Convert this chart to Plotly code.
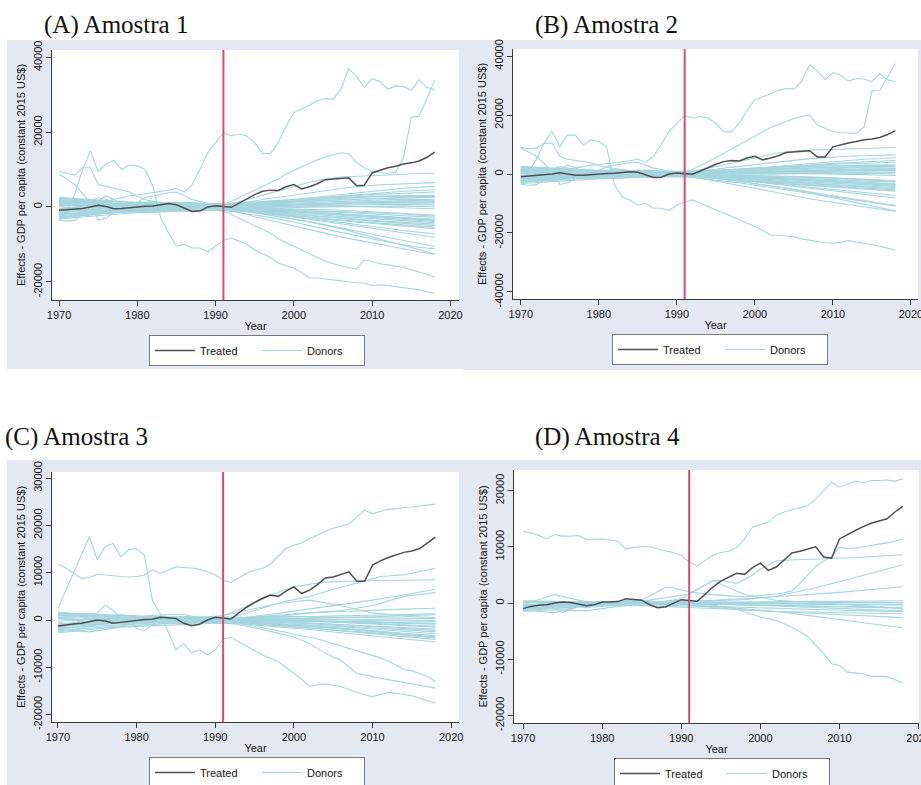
import plotly.graph_objects as go

W, H = 921, 785
SANS = "Liberation Sans, Arial, Helvetica, sans-serif"
SERIF = "Liberation Serif, Times New Roman, serif"

YEARS = list(range(1970, 2019))
BAND_YEARS = [1970, 1974, 1978, 1982, 1986, 1990, 1994, 1998, 2002, 2006, 2010, 2014, 2018]
TREAT_YEAR = 1991

TITLES = ["(A) Amostra 1", "(B) Amostra 2", "(C) Amostra 3", "(D) Amostra 4"]
Y_TITLE = "Effects - GDP per capita (constant 2015 US$)"
X_TITLE = "Year"
X_TICKS = [1970, 1980, 1990, 2000, 2010, 2020]
Y_TICKS = {
    "A": [-20000, 0, 20000, 40000],
    "B": [-40000, -20000, 0, 20000, 40000],
    "C": [-20000, -10000, 0, 10000, 20000, 30000],
    "D": [-20000, -10000, 0, 10000, 20000],
}

# ---------------- treated series ----------------
treated_A = [-900, -700, -500, -400, 0, 450, 100, -450, -400, -200,
             200, 200, 250, 500, 900, 600, -200, -1200, -1100, 0,
             350, 200, -100, 1000, 2200, 3300, 4200, 4500, 4400, 5400,
             6000, 4800, 5400, 6200, 7300, 7500, 7600, 7800, 5700, 5800,
             9100, 9800, 10500, 10900, 11500, 11800, 12300, 13300, 14700]
treated_B = [-900, -700, -500, -400, 0, 450, 100, -450, -400, -200,
             200, 200, 250, 500, 800, 600, -200, -1200, -1100, 0,
             350, 200, -100, 1000, 2200, 3300, 4200, 4600, 4400, 5400,
             6000, 4800, 5400, 6200, 7300, 7500, 7600, 7900, 5800, 5800,
             9200, 9900, 10500, 11000, 11600, 11900, 12400, 13400, 14700]
treated_C = [-1270, -1000, -850, -700, -300, 0, -200, -700, -500, -300,
             0, 100, 150, 560, 500, 300, -700, -1200, -900, 0,
             560, 350, 200, 1500, 2700, 3700, 4600, 5300, 5000, 6100,
             7000, 5600, 6300, 7500, 8900, 9100, 9700, 10200, 8200, 8200,
             11600, 12500, 13200, 13700, 14300, 14600, 15100, 16300, 17500]
treated_D = [-1000, -600, -400, -300, 0, 200, 100, -200, -470, -300,
             180, 200, 250, 770, 700, 500, -300, -830, -700, 0,
             600, 470, 300, 1540, 2840, 3900, 4600, 5300, 5100, 6300,
             7100, 5800, 6400, 7600, 8900, 9200, 9600, 10000, 8200, 8000,
             11400, 12200, 12900, 13600, 14200, 14600, 15000, 16200, 17200]

# ---------------- donors, panels A and B (annual) ----------------
donor_L1_AB = [-1500, -1200, -800, -300, 200, 800, 1500, 2000, 2500, 3000,
               3200, 3500, 3800, 4200, 4500, 5000, 4000, 6000, 10000, 14500,
               17000, 19800, 19000, 19500, 19000, 17200, 14300, 14300, 17200, 21600,
               25200, 26100, 27200, 28400, 29000, 28800, 31500, 37000, 35000, 32000,
               34400, 33500, 31500, 32400, 32200, 31300, 34000, 32000, 31300]
donor_L2_A = [-600, -400, 0, 300, 500, 200, -300, -500, -200, 100,
              300, 600, 400, 800, 1000, 1300, 900, 600, 400, 300,
              500, 700, 1500, 2500, 3500, 4500, 5500, 6500, 7500, 8800,
              9800, 10800, 11800, 12600, 13400, 14000, 14500, 14300, 12000, 10500,
              9500, 9200, 9000, 9300, 13000, 24000, 24300, 29000, 34000]
donor_L2_B = [-600, -400, 0, 300, 500, 200, -300, -500, -200, 100,
              300, 600, 400, 800, 1000, 1300, 900, 600, 400, 300,
              500, 700, 1500, 2800, 4000, 5500, 7000, 8500, 10000, 11500,
              13000, 14500, 15800, 16800, 17800, 18800, 19500, 20000, 16600, 15500,
              14400, 14000, 13800, 13800, 16000, 28200, 28300, 33000, 37500]
donor_L3_A = [-3500, -1000, 3500, 10000, 15000, 9500, 11500, 12500, 10000, 11200,
              11000, 10000, 5500, -3000, -7000, -10500, -10000, -11000, -11000, -12000,
              -10500, -9000, -8300, -9200, -10000, -11500, -12500, -13500, -15000, -15800,
              -16400, -17500, -19000, -19000, -19200, -19500, -19800, -20000, -20300, -20400,
              -21000, -20800, -21000, -21300, -21500, -21800, -22200, -22700, -23100]
donor_L3_B = [-2500, 800, 5000, 10500, 14400, 9300, 13200, 13200, 9800, 11500,
              11000, 9300, -3700, -7700, -9000, -10500, -10000, -11600, -11600, -12400,
              -10500, -9500, -8800, -9800, -11000, -12200, -13200, -14300, -15600, -16700,
              -17800, -19200, -20700, -20800, -21000, -21300, -22000, -22500, -23000, -23300,
              -23500, -23200, -22600, -23000, -23500, -24000, -24500, -25200, -25800]
donor_A4 = [-3000, -2600, -2200, -1800, -1500, -1200, -1000, -800, -900, -1000,
            -1100, -1200, -1000, -900, -800, -700, -900, -1000, -800, -700,
            -900, -1200, -2000, -3000, -4000, -5200, -6000, -7000, -8500, -9500,
            -10500, -11500, -12500, -13500, -14500, -15200, -15800, -16200, -16600, -14200,
            -14600, -15200, -15500, -15800, -16200, -16800, -17300, -18000, -18800]
donor_A5 = [9500, 9000, 8500, 10500, 10500, 6000, 5500, 4800, 4500, 4000,
            2800, 2000, 1500, 1200, 900, 600, 300, 0, -300, -500,
            -700, -900, -1200, -1500, -1800, -2100, -2500, -2800, -3200, -3600,
            -4000, -4500, -5000, -5500, -6000, -6400, -6800, -7200, -7600, -8000,
            -8500, -9000, -9400, -9800, -10200, -10500, -10800, -11000, -11200]
donor_B4 = [9000, 8600, 8700, 10400, 10500, 6000, 5000, 4500, 4200, 3800,
            2800, 2200, 1800, 1500, 1200, 900, 600, 300, 0, -300,
            -500, -800, -1000, -1300, -1600, -1900, -2200, -2600, -3000, -3400,
            -3800, -4200, -4600, -5000, -5400, -5800, -6200, -6600, -7000, -7400,
            -7800, -8200, -8600, -9000, -9400, -9800, -10200, -10500, -10800]
donor_AB6 = [8700, 7500, 6000, 3500, 1000, -3500, -3000, -1500, -500, 0,
             300, 500, 400, 200, 0, -200, -400, -600, -500, -300,
             -200, -400, -900, -1500, -2000, -2600, -3100, -3600, -4100, -4600,
             -5100, -5500, -6000, -6500, -7000, -7500, -8000, -8400, -8800, -9200,
             -9700, -10100, -10500, -10900, -11300, -11700, -12000, -12300, -12600]
donor_AB7 = [-3500, -3800, -3600, -2000, 0, 1500, 3000, 2000, 1000, 0,
             -1500, -1600, -800, 0, 500, 800, 600, 300, 200, 100,
             300, 500, 900, 1400, 2000, 2600, 3200, 3800, 4400, 5000,
             5600, 6100, 6600, 7100, 7500, 7800, 8000, 8100, 8200, 8300,
             8400, 8500, 8600, 8700, 8800, 8800, 8900, 9000, 9000]
donor_AB8 = [1500, 1200, 1000, 800, 1500, 2500, 2000, 1500, 1000, 800,
             1200, 2500, 3000, 3500, 3800, 4000, 3000, 2000, 1500, 1000,
             800, 600, 800, 1000, 1300, 1600, 2000, 2300, 2600, 3000,
             3300, 3600, 3900, 4200, 4500, 4800, 5000, 5200, 5400, 5600,
             5800, 5900, 6000, 6100, 6200, 6300, 6400, 6500, 6500]

# ---------------- donors, panels A and B (every 4 years) ----------------
band_AB = [
    [2300, 1800, 1200, 900, 1100, 800, 1200, 1800, 2200, 2600, 2900, 3000, 3100],
    [-2800, -2000, -1500, -1200, -900, -700, -1200, -2000, -2800, -3400, -4200, -4800, -5400],
    [1500, 1200, 800, 1300, 600, 500, 900, 1300, 1700, 2000, 2200, 2500, 2600],
    [-1800, -1500, -900, -1000, -400, -300, -900, -1500, -2200, -2900, -3600, -4100, -4600],
    [900, 600, 1000, 400, 800, 300, 600, 900, 1100, 1500, 1800, 2100, 2000],
    [-900, -1100, -600, -300, -700, -500, -700, -1100, -1600, -2200, -2800, -3300, -3900],
    [2000, 1500, 500, 700, -200, 200, 300, 700, 900, 1100, 1300, 1600, 1500],
    [-2300, -1700, -1200, -800, -1000, -200, -500, -900, -1300, -1800, -2300, -2900, -3300],
    [400, 900, 300, -200, 300, 600, 100, 400, 600, 800, 900, 1100, 1000],
    [-1300, -600, -200, -500, 200, -100, -400, -700, -1000, -1400, -1900, -2400, -2800],
    [1200, 300, -300, 200, -300, 400, 200, 100, 300, 500, 600, 700, 500],
    [-500, -300, 400, 800, 400, -400, -200, -400, -600, -900, -1300, -1700, -2200],
    [2600, 1900, 1400, 1100, 700, 900, 700, 1100, 1500, 1800, 2300, 2600, 2700],
    [-3200, -2500, -1800, -1300, -1200, -800, -1100, -1700, -2500, -3100, -3800, -4500, -5000],
    [700, -200, -700, -900, -500, 100, -100, -200, -100, 100, 200, 300, 0],
    [-1600, -1000, 700, 1400, 900, 300, 400, 500, 700, 900, 1200, 1300, 1200],
    [300, 500, -900, -300, -1100, -600, -800, -1300, -1900, -2600, -3100, -3700, -4200],
    [1800, 1300, 1600, 600, 1300, 700, 1000, 1500, 1900, 2300, 2700, 2900, 2800],
    [-2000, -1300, -400, 300, -100, 0, -300, -500, -800, -1100, -1500, -1900, -2500],
    [100, -800, -1300, -600, 0, 500, 500, 600, 800, 1000, 1400, 1700, 1800],
    [-700, 100, 200, 1000, 1200, 200, -500, -900, -1400, -1900, -2400, -2900, -3500],
    [1000, 1600, 900, -700, -600, -300, -600, -1000, -1500, -2000, -2600, -3000, -3600],
    [-2600, -2200, -1000, -1500, -800, -900, -1300, -2200, -3000, -3700, -4400, -5100, -5800],
    [2200, 700, 0, 100, 500, 100, 0, 200, 300, 200, 100, -200, -500],
]
extra_AB = [
    [-1200, -800, -300, 200, 500, 300, 800, 1600, 2500, 3300, 4200, 5000, 5500],
    [800, 400, 200, -400, -200, 500, 900, 1500, 2200, 2900, 3600, 4200, 4600],
    [-2200, -1500, -1000, -600, -200, 0, 500, 1200, 2000, 2800, 3300, 3700, 4000],
    [1300, 900, 500, 100, -300, -400, -1000, -2000, -3100, -4200, -5300, -6300, -7200],
    [-400, -100, 300, 600, 200, -200, -900, -2100, -3300, -4500, -5800, -7000, -8100],
    [2400, 1500, 800, 400, 1000, -300, -1200, -2500, -4000, -5600, -7400, -9000, -10600],
    [-2900, -2000, -1300, -1000, -600, -600, -1200, -2500, -4000, -5800, -8000, -10200, -12500],
]

# ---------------- donors, panel C ----------------
donor_C1 = [11800, 11000, 9900, 8800, 9000, 9700, 9500, 9300, 9200, 9100,
            9200, 9500, 10600, 9900, 10500, 11200, 11100, 11000, 10700, 10200,
            9500, 8400, 7950, 9000, 9900, 10500, 10900, 11800, 13500, 15100,
            15800, 16300, 17200, 18000, 18700, 19400, 19800, 20300, 21800, 23200,
            22500, 22900, 23400, 23500, 23800, 23900, 24100, 24200, 24500]
donor_C2 = [2500, 6300, 9900, 14100, 17600, 12700, 15500, 16200, 13400, 14900,
            15100, 13700, 4200, 1400, -2500, -6300, -4900, -7000, -6300, -7400,
            -6300, -4000, -3700, -4600, -5600, -6500, -7400, -8100, -8800, -10000,
            -11300, -12500, -14100, -13700, -13500, -13800, -14100, -14700, -15300, -15800,
            -16200, -15700, -15300, -15500, -15800, -16000, -16500, -17000, -17600]
donor_C3 = [-2500, -2300, -2000, -1700, -1300, -1000, -800, -700, -600, -500,
            -400, -300, -200, -100, 0, 100, 0, -100, -200, -300,
            -400, -500, -700, -1000, -1300, -1600, -2000, -2400, -2800, -3200,
            -3600, -4300, -5000, -6000, -7000, -7800, -8500, -9900, -11300, -11600,
            -12000, -12300, -12600, -12900, -13200, -13500, -13800, -14100, -14400]
donor_C4 = [-1500, -1200, -800, 0, 800, 1500, 3200, 2000, 500, -500,
            -1800, -2200, -1000, 0, 500, 300, 200, 0, -200, -100,
            0, -200, -400, -700, -1000, -1300, -1600, -1900, -2200, -2600,
            -3000, -3300, -3600, -4000, -4500, -5000, -5500, -6000, -6500, -7000,
            -7500, -8000, -8700, -9500, -10500, -10700, -11300, -12000, -13000]
donor_C5 = [-2000, -1800, -1500, -1200, -1000, -800, -600, -500, -400, -300,
            -200, -100, 0, 100, 200, 100, 0, -100, 0, 100,
            200, 300, 600, 1000, 1500, 2000, 2500, 3000, 3500, 4000,
            4300, 4600, 5000, 5500, 6000, 6500, 7000, 7400, 7800, 8300,
            8800, 9200, 9300, 9400, 9600, 9900, 10200, 10600, 11000]
donor_C6 = [1500, 1300, 1100, 900, 700, 500, 400, 300, 200, 300,
            400, 500, 600, 500, 400, 300, 400, 500, 600, 700,
            800, 900, 1500, 2200, 3000, 3700, 4400, 5200, 5900, 6500,
            7000, 7300, 7600, 7800, 8000, 8100, 8100, 8200, 8200, 8300,
            8300, 8300, 8400, 8400, 8400, 8400, 8500, 8500, 8500]
band_C = [
    [-800, -500, -200, 0, 300, 200, 600, 1400, 2300, 3200, 4200, 5300, 6500],
    [500, 700, 1000, 600, 200, 0, 300, 800, 1500, 2000, 3000, 5000, 5800],
    [1200, 900, 600, 300, 100, -200, 500, 1000, 1500, 1800, 2100, 2300, 2500],
    [-1000, -600, -300, 200, 500, 600, 2000, 3500, 4200, 3000, 1500, 800, 500],
    [1500, 1200, 900, 700, 500, 400, 300, 200, 100, 0, -100, -200, -300],
    [-2700, -2000, -1400, -900, -600, -500, -700, -1000, -1400, -1800, -2300, -2800, -3300],
    [1000, 800, 1100, 500, 300, 200, 0, -300, -600, -900, -1200, -1500, -1900],
    [-1800, -1400, -900, -600, -300, -200, -400, -800, -1200, -1700, -2300, -2900, -3600],
    [600, 1100, 300, 100, 400, 100, 200, 300, 400, 500, 700, 900, 1100],
    [-1200, -800, -500, -1000, -200, 0, -200, -400, -700, -1000, -1400, -1800, -2200],
    [1300, 400, -200, 300, 800, 500, 300, 100, -100, -300, -500, -700, -900],
    [-2300, -1800, -1200, -400, -800, -300, -600, -1100, -1700, -2300, -2900, -3500, -4100],
    [200, -300, 600, 900, 200, -200, -100, -200, -300, -400, -500, -600, -700],
    [-600, -1100, -700, -200, 500, 300, 100, 0, -200, -400, -700, -1000, -1300],
    [900, 1400, 700, 200, -300, 400, 500, 400, 300, 200, 100, 0, -100],
    [-1500, -600, 200, 1000, 1200, -400, -600, -900, -1300, -1800, -2400, -3000, -3700],
    [1700, 1000, 400, -300, -500, 600, 400, 600, 800, 900, 1000, 1200, 1300],
    [-2000, -2500, -1500, -1200, -1000, -700, -900, -1400, -2000, -2700, -3400, -4000, -4600],
    [400, 0, -400, -700, 0, 200, 0, -100, -200, -500, -800, -1100, -1500],
    [-900, -200, 1000, 600, 300, -100, -300, -500, -800, -1200, -1600, -2000, -2500],
    [1100, 700, 200, -500, -200, 700, 600, 800, 700, 600, 500, 400, 300],
    [-300, 300, -800, -300, 700, -500, -700, -1200, -1600, -2100, -2700, -3200, -3800],
    [-1700, -1200, 0, 500, -600, 300, 200, 0, -200, -300, -400, -600, -800],
    [700, -500, 500, 800, 400, -300, -400, -700, -1000, -1400, -1900, -2400, -2900],
]

# ---------------- donors, panel D ----------------
donor_D1 = [12700, 12500, 12000, 11400, 12200, 11900, 11900, 12000, 11300, 11300,
            11400, 11200, 11000, 9600, 9900, 10000, 10000, 9600, 9300, 9000,
            8500, 7300, 6600, 7600, 8500, 9000, 9200, 9900, 11400, 13500,
            13900, 14400, 15600, 16200, 16600, 17000, 17300, 18500, 20000, 21500,
            20600, 21200, 21700, 21400, 21800, 21800, 21900, 21700, 22100]
donor_D2 = [-1200, -1000, -900, -800, -700, -600, -500, -400, -300, -200,
            -100, 0, 100, 200, 100, 0, -100, -200, -300, -200,
            -100, 0, -100, -200, -400, -600, -700, -1100, -1600, -2000,
            -2500, -2800, -3100, -3700, -4300, -5100, -6000, -7500, -9000, -10800,
            -11100, -12300, -12400, -12600, -13000, -13000, -13100, -13600, -14300]
donor_D3 = [-1400, -1300, -1200, -1000, -900, -1700, -1200, -600, -300, -200,
            0, 200, 300, 400, 500, 600, 1200, 2000, 2800, 2700,
            2300, 2000, 1800, 1600, 1500, 1400, 1300, 1200, 1100, 1200,
            1400, 1500, 1600, 1800, 2200, 3500, 5000, 6500, 7500, 8200,
            9900, 9700, 9800, 10000, 10300, 10500, 10700, 11000, 11400]
donor_D4 = [-600, -400, -200, 0, 200, 100, 0, -100, -200, -100,
            0, 100, 200, 300, 400, 300, 500, 800, 1000, 1200,
            1400, 1600, 2400, 3200, 4000, 4000, 3800, 3500, 4200, 5000,
            6000, 6800, 7500, 7600, 7700, 7700, 7800, 7800, 7900, 7900,
            8000, 8000, 8100, 8200, 8300, 8400, 8400, 8500, 8600]
band_D = [
    [-300, 1500, 200, -200, 100, 500, 400, 600, 1200, 2400, 3800, 5300, 6800],
    [400, 300, 0, -100, 200, 300, 500, 800, 1100, 1500, 1900, 2400, 2900],
    [-800, -1000, -600, -300, -500, -700, -900, -1200, -1500, -1800, -2100, -2400, -2600],
    [-500, -300, -800, -400, -200, -300, -600, -1000, -1500, -2200, -3000, -3700, -4400],
    [-1500, -1200, -1400, -600, -200, 800, 4000, 1500, 500, 200, -200, -600, -1000],
    [-1300, -1700, -200, 0, -300, -100, -800, -1300, -1500, -1600, -1700, -1800, -1900],
    [-600, -300, -100, 100, 0, -200, -300, -400, -500, -600, -700, -800, -900],
    [200, 100, 300, 0, -100, 100, 0, -100, -200, -200, -300, -300, -400],
    [-1000, -500, -300, -200, -300, -400, -200, -300, -400, -500, -600, -700, -800],
    [0, 200, -200, 200, 300, 0, 100, 200, 200, 300, 300, 400, 400],
    [-200, -600, -400, -300, 100, 200, -100, -300, -500, -800, -1000, -1200, -1400],
    [300, -100, 100, 300, 200, 300, 200, 100, 0, 0, 100, 100, 100],
    [-800, -900, -500, -100, -200, -500, -600, -800, -1000, -1200, -1300, -1400, -1500],
    [-400, 0, 200, 100, -100, 0, -100, 0, -100, -100, -200, -200, -200],
]

# ---------------- panel assembly ----------------
PANELS = [
    dict(key="A", treated=treated_A,
         annual=[donor_L1_AB, donor_L2_A, donor_L3_A, donor_A4, donor_A5, donor_AB6, donor_AB7, donor_AB8],
         band=band_AB + extra_AB),
    dict(key="B", treated=treated_B,
         annual=[donor_L1_AB, donor_L2_B, donor_L3_B, donor_B4, donor_AB6, donor_AB7, donor_AB8],
         band=band_AB + extra_AB),
    dict(key="C", treated=treated_C,
         annual=[donor_C1, donor_C2, donor_C3, donor_C4, donor_C5, donor_C6],
         band=band_C),
    dict(key="D", treated=treated_D,
         annual=[donor_D1, donor_D2, donor_D3, donor_D4],
         band=band_D),
]

# layout geometry in pixels (left, right, top, bottom) and axis ranges
GEOM = {
    "A": dict(px=(52, 459, 50, 300), xr=(1969.1, 2021.1), yr=(-24900, 42000),
              bg=(7, 463, 40, 369), title=(42, 25), leg=(149, 335)),
    "B": dict(px=(513, 918, 49, 299), xr=(1969.0, 2020.9), yr=(-42400, 42400),
              bg=(463, 921, 40, 370), title=(533, 25), leg=(612, 334)),
    "C": dict(px=(52, 459, 472, 722), xr=(1969.24, 2021.0), yr=(-21560, 31290),
              bg=(7, 463, 460, 785), title=(3, 437), leg=(149, 757)),
    "D": dict(px=(514, 919, 470, 723), xr=(1968.86, 2020.05), yr=(-21350, 23670),
              bg=(463, 921, 460, 785), title=(533, 437), leg=(614, 758)),
}

DONOR_COLOR = "#a6d5df"
TREATED_COLOR = "#505050"
RED = "#d2506e"
BG_GRAY = "#e4e8f3"
AXIS_COLOR = "#3a3a3a"
TXT = "#151515"

fig = go.Figure()
shapes = []
annotations = []
layout_axes = {}

for i, p in enumerate(PANELS):
    k = p["key"]
    g = GEOM[k]
    n = "" if i == 0 else str(i + 1)
    xa, ya = "x" + n, "y" + n
    legname = "legend" + n
    first = True
    for series in p["annual"]:
        fig.add_trace(go.Scatter(x=YEARS, y=series, mode="lines", xaxis=xa, yaxis=ya,
                                 line=dict(color=DONOR_COLOR, width=1.1),
                                 name="Donors", legend=legname, legendrank=2,
                                 showlegend=first, hoverinfo="skip"))
        first = False
    for series in p["band"]:
        fig.add_trace(go.Scatter(x=BAND_YEARS, y=series, mode="lines", xaxis=xa, yaxis=ya,
                                 line=dict(color=DONOR_COLOR, width=1.1),
                                 name="Donors", legend=legname, legendrank=2,
                                 showlegend=False, hoverinfo="skip"))
    fig.add_trace(go.Scatter(x=YEARS, y=p["treated"], mode="lines", xaxis=xa, yaxis=ya,
                             line=dict(color=TREATED_COLOR, width=1.5),
                             name="Treated", legend=legname, legendrank=1,
                             showlegend=True, hoverinfo="skip"))

    l, r, t, b = g["px"]
    yt = Y_TICKS[k]
    layout_axes["xaxis" + n] = dict(
        domain=[l / W, r / W], range=list(g["xr"]), anchor=ya, automargin=False,
        tickvals=X_TICKS, ticktext=[str(v) for v in X_TICKS], ticklabeloverflow="allow",
        showgrid=False, zeroline=False, showline=True, linecolor=AXIS_COLOR, linewidth=1,
        ticks="outside", ticklen=5, tickcolor=AXIS_COLOR,
        tickfont=dict(family=SANS, size=11, color=TXT),
        title=dict(text=X_TITLE, font=dict(family=SANS, size=11, color=TXT), standoff=2),
    )
    layout_axes["yaxis" + n] = dict(
        domain=[1 - b / H, 1 - t / H], range=list(g["yr"]), anchor=xa, automargin=False,
        tickvals=yt, ticktext=[str(v) for v in yt], tickangle=-90,
        showgrid=False, zeroline=False, showline=True, linecolor=AXIS_COLOR, linewidth=1,
        ticks="outside", ticklen=5, tickcolor=AXIS_COLOR,
        tickfont=dict(family=SANS, size=11, color=TXT),
        title=dict(text=Y_TITLE, font=dict(family=SANS, size=11, color=TXT), standoff=3),
    )
    bl, br, bt, bb = g["bg"]
    shapes.append(dict(type="rect", xref="paper", yref="paper", x0=bl / W, x1=br / W,
                       y0=1 - bb / H, y1=1 - bt / H, fillcolor=BG_GRAY,
                       line=dict(width=0), layer="below"))
    shapes.append(dict(type="rect", xref=xa + " domain", yref=ya + " domain",
                       x0=0, x1=1, y0=0, y1=1, fillcolor="white",
                       line=dict(width=0), layer="below"))
    shapes.append(dict(type="line", xref=xa, yref=ya + " domain", x0=TREAT_YEAR, x1=TREAT_YEAR,
                       y0=0, y1=1, line=dict(color=RED, width=2), layer="above"))
    tx, ty = g["title"]
    annotations.append(dict(text=TITLES[i], xref="paper", yref="paper", x=tx / W, y=1 - ty / H,
                            xanchor="left", yanchor="middle", showarrow=False,
                            font=dict(family=SERIF, size=25, color="#111")))
    lx, ly = g["leg"]
    layout_axes[legname] = dict(
        x=lx / W, y=1 - ly / H, xanchor="left", yanchor="top", orientation="h",
        bgcolor="white", bordercolor="#7a7a7a", borderwidth=1,
        font=dict(family=SANS, size=11, color=TXT),
        itemwidth=40, entrywidth=52, entrywidthmode="pixels", traceorder="normal",
    )

fig.update_layout(
    width=W, height=H, margin=dict(l=0, r=0, t=0, b=0, autoexpand=False),
    paper_bgcolor="white", plot_bgcolor="white",
    shapes=shapes, annotations=annotations, hovermode=False,
    **layout_axes,
)

fig.write_html("out.html")
